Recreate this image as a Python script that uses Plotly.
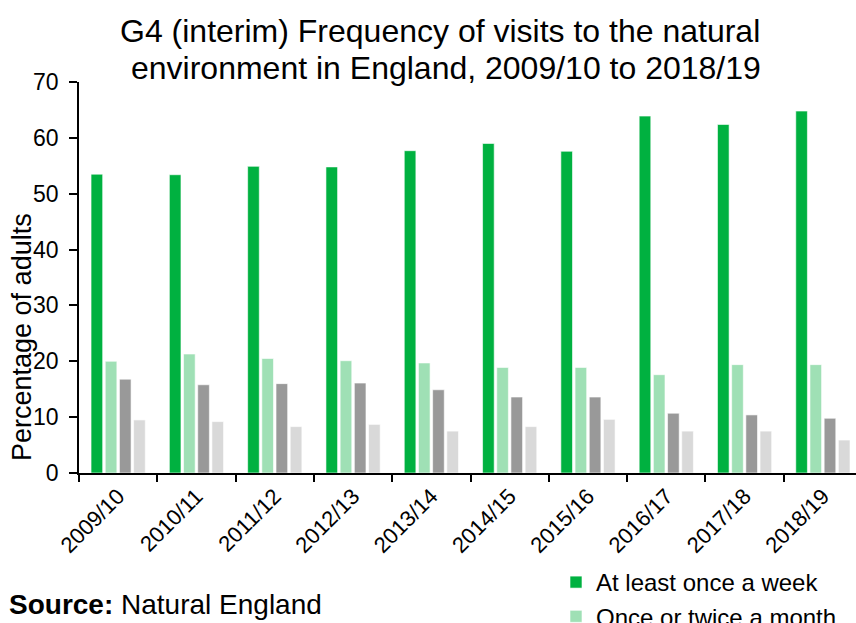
import plotly.graph_objects as go

years = ["2009/10", "2010/11", "2011/12", "2012/13", "2013/14",
         "2014/15", "2015/16", "2016/17", "2017/18", "2018/19"]
weekly = [53.5, 53.4, 54.9, 54.8, 57.7, 59.0, 57.6, 63.9, 62.4, 64.8]
monthly = [20.0, 21.3, 20.5, 20.1, 19.7, 18.9, 18.9, 17.6, 19.4, 19.4]
less_often = [16.8, 15.8, 16.0, 16.1, 14.9, 13.6, 13.6, 10.7, 10.4, 9.8]
never = [9.5, 9.2, 8.3, 8.7, 7.5, 8.3, 9.6, 7.5, 7.5, 5.9]

series = [
    ("At least once a week", weekly, "#00B140"),
    ("Once or twice a month", monthly, "#9FE0B5"),
    ("Less often", less_often, "#999999"),
    ("Never", never, "#D9D9D9"),
]

title_lines = ["G4 (interim) Frequency of visits to the natural",
               "environment in England, 2009/10 to 2018/19"]

FONT = "Liberation Sans, Arial, sans-serif"
W, H = 856, 623
L, R, T, B = 79, 0, 82, 150
PW, PH = W - L - R, H - T - B


def px_x(x):
    return (x - L) / PW


def px_y(y):
    return (H - B - y) / PH


fig = go.Figure()
for name, vals, col in series:
    fig.add_trace(go.Bar(x=years, y=vals, name=name,
                         marker=dict(color=col, line=dict(color="white", width=0.6))))

fig.update_layout(
    width=W, height=H,
    margin=dict(l=L, r=R, t=T, b=B, autoexpand=False),
    paper_bgcolor="white", plot_bgcolor="white",
    font=dict(family=FONT, color="black"),
    barmode="group", bargap=0.275, bargroupgap=0.18,
    xaxis=dict(
        range=[-0.5, 9.423], showline=True, linecolor="black", linewidth=1.5,
        ticks="outside", tickson="boundaries", ticklen=7, tickcolor="black", tickwidth=1.5,
        tickangle=-45, tickfont=dict(size=22, family=FONT, color="black"),
        showgrid=False, zeroline=False, automargin=False,
    ),
    yaxis=dict(
        range=[0, 70], dtick=10, showline=True, linecolor="black", linewidth=1.5,
        ticks="outside", ticklen=8, tickcolor="black", tickwidth=1.5,
        ticklabelstandoff=6,
        tickfont=dict(size=23, family=FONT, color="black"),
        showgrid=False, zeroline=False, automargin=False,
    ),
    legend=dict(
        x=px_x(556), xanchor="left", y=px_y(560), yanchor="top",
        font=dict(size=24, family=FONT, color="black"),
        bgcolor="rgba(0,0,0,0)", itemwidth=30, tracegroupgap=0,
    ),
    annotations=[
        dict(text=title_lines[0],
             x=px_x(440), y=px_y(31), xref="paper", yref="paper", showarrow=False,
             xanchor="center", yanchor="middle",
             font=dict(size=32, family=FONT, color="black")),
        dict(text=title_lines[1],
             x=px_x(446), y=px_y(67.5), xref="paper", yref="paper", showarrow=False,
             xanchor="center", yanchor="middle",
             font=dict(size=32, family=FONT, color="black")),
        dict(text="Percentage of adults", textangle=-90, x=px_x(22), y=px_y(337),
             xref="paper", yref="paper", showarrow=False,
             xanchor="center", yanchor="middle",
             font=dict(size=27, family=FONT, color="black")),
        dict(text="<b>Source:</b> Natural England", x=px_x(7), y=px_y(604),
             xref="paper", yref="paper", showarrow=False,
             xanchor="left", yanchor="middle",
             font=dict(size=28, family=FONT, color="black")),
    ],
)

fig.write_html("out.html")
